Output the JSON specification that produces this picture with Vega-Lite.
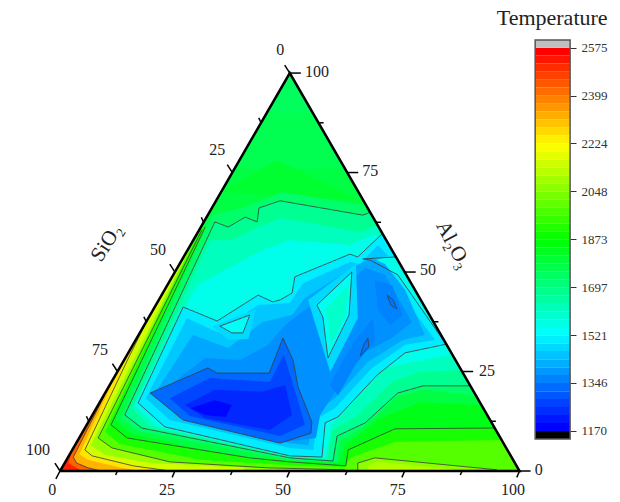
{
"$schema":"https://vega.github.io/schema/vega-lite/v6.json",
"width":620,"height":502,"padding":0,"autosize":{"type":"fit","contains":"padding"},
"background":"white","view":{"stroke":null},
"datasets":{
"bands":[
{"p":"b00","t":1780,"x":0,"y":0},{"p":"b00","t":1780,"x":100,"y":0},{"p":"b00","t":1780,"x":50,"y":100},
{"p":"b01","t":1762,"x":38,"y":76},{"p":"b01","t":1762,"x":50,"y":100},{"p":"b01","t":1762,"x":62,"y":76},
{"p":"b02","t":1745,"x":45,"y":90},{"p":"b02","t":1745,"x":50,"y":100},{"p":"b02","t":1745,"x":55,"y":90},
{"p":"b03","t":1805,"x":35,"y":70},{"p":"b03","t":1805,"x":47,"y":78},{"p":"b03","t":1805,"x":55,"y":74},{"p":"b03","t":1805,"x":65,"y":68},{"p":"b03","t":1805,"x":50,"y":69},
{"p":"h01","t":1840,"x":32,"y":64},{"p":"h01","t":1840,"x":12,"y":12.6},{"p":"h01","t":1840,"x":15.7,"y":9.3},{"p":"h01","t":1840,"x":41.3,"y":2.8},{"p":"h01","t":1840,"x":50,"y":2.5},{"p":"h01","t":1840,"x":60.9,"y":2},{"p":"h01","t":1840,"x":62,"y":6.5},{"p":"h01","t":1840,"x":69.6,"y":13.3},{"p":"h01","t":1840,"x":78.3,"y":17.3},{"p":"h01","t":1840,"x":91.7,"y":16.6},{"p":"h01","t":1840,"x":100,"y":0},{"p":"h01","t":1840,"x":0,"y":0},
{"p":"h02","t":1905,"x":30.6,"y":61.3},{"p":"h02","t":1905,"x":31.6,"y":61.3},{"p":"h02","t":1905,"x":11.1,"y":11.6},{"p":"h02","t":1905,"x":14.6,"y":8.3},{"p":"h02","t":1905,"x":41.3,"y":3.3},{"p":"h02","t":1905,"x":50,"y":2.3},{"p":"h02","t":1905,"x":62.2,"y":1.3},{"p":"h02","t":1905,"x":62.7,"y":5.3},{"p":"h02","t":1905,"x":72.9,"y":10.6},{"p":"h02","t":1905,"x":94.6,"y":10.8},{"p":"h02","t":1905,"x":100,"y":0},{"p":"h02","t":1905,"x":0,"y":0},
{"p":"h03","t":1990,"x":30.6,"y":61},{"p":"h03","t":1990,"x":9.8,"y":9.8},{"p":"h03","t":1990,"x":13.1,"y":6.8},{"p":"h03","t":1990,"x":30.5,"y":2.8},{"p":"h03","t":1990,"x":52.2,"y":1.3},{"p":"h03","t":1990,"x":62,"y":1},{"p":"h03","t":1990,"x":63.1,"y":3.3},{"p":"h03","t":1990,"x":72.9,"y":7.3},{"p":"h03","t":1990,"x":96.1,"y":7.8},{"p":"h03","t":1990,"x":100,"y":0},{"p":"h03","t":1990,"x":0,"y":0},
{"p":"h04","t":2080,"x":30.3,"y":60.6},{"p":"h04","t":2080,"x":8.3,"y":8.3},{"p":"h04","t":2080,"x":11.3,"y":5.8},{"p":"h04","t":2080,"x":23.9,"y":2.3},{"p":"h04","t":2080,"x":45,"y":0.8},{"p":"h04","t":2080,"x":62,"y":0.3},{"p":"h04","t":2080,"x":62,"y":0},{"p":"h04","t":2080,"x":0,"y":0},
{"p":"h05","t":2065,"x":64.8,"y":0},{"p":"h05","t":2065,"x":64.8,"y":2},{"p":"h05","t":2065,"x":68.5,"y":3.3},{"p":"h05","t":2065,"x":95.1,"y":0.3},{"p":"h05","t":2065,"x":100,"y":0},
{"p":"h06","t":2115,"x":67,"y":0},{"p":"h06","t":2115,"x":67,"y":1.3},{"p":"h06","t":2115,"x":69,"y":2.3},{"p":"h06","t":2115,"x":85,"y":0.5},{"p":"h06","t":2115,"x":88,"y":0},
{"p":"h07","t":2160,"x":29.2,"y":58.4},{"p":"h07","t":2160,"x":6.7,"y":6.5},{"p":"h07","t":2160,"x":9.8,"y":4},{"p":"h07","t":2160,"x":20,"y":2},{"p":"h07","t":2160,"x":40,"y":0.8},{"p":"h07","t":2160,"x":40,"y":0},{"p":"h07","t":2160,"x":0,"y":0},
{"p":"h08","t":2260,"x":18.8,"y":37.5},{"p":"h08","t":2260,"x":14.9,"y":28.4},{"p":"h08","t":2260,"x":5.4,"y":5.3},{"p":"h08","t":2260,"x":7,"y":3.8},{"p":"h08","t":2260,"x":15.9,"y":1.3},{"p":"h08","t":2260,"x":24,"y":0},{"p":"h08","t":2260,"x":0,"y":0},
{"p":"h09","t":2330,"x":12.5,"y":25},{"p":"h09","t":2330,"x":4.2,"y":4.2},{"p":"h09","t":2330,"x":6,"y":2.8},{"p":"h09","t":2330,"x":13,"y":0.9},{"p":"h09","t":2330,"x":18,"y":0},{"p":"h09","t":2330,"x":0,"y":0},
{"p":"h10","t":2440,"x":11,"y":22},{"p":"h10","t":2440,"x":2.9,"y":3.5},{"p":"h10","t":2440,"x":3.6,"y":2},{"p":"h10","t":2440,"x":6.1,"y":0.8},{"p":"h10","t":2440,"x":9,"y":0},{"p":"h10","t":2440,"x":0,"y":0},
{"p":"h11","t":2530,"x":2.9,"y":5.8},{"p":"h11","t":2530,"x":1.8,"y":2},{"p":"h11","t":2530,"x":4,"y":0.5},{"p":"h11","t":2530,"x":5,"y":0},{"p":"h11","t":2530,"x":0,"y":0},
{"p":"k01","t":1725,"x":13.3,"y":13.3},{"p":"k01","t":1725,"x":33.1,"y":64.3},{"p":"k01","t":1725,"x":40.3,"y":66.3},{"p":"k01","t":1725,"x":48.3,"y":70.1},{"p":"k01","t":1725,"x":66.7,"y":66.6},{"p":"k01","t":1725,"x":90.5,"y":19},{"p":"k01","t":1725,"x":79,"y":20.4},{"p":"k01","t":1725,"x":73.5,"y":18.8},{"p":"k01","t":1725,"x":65.7,"y":10.8},{"p":"k01","t":1725,"x":60.9,"y":7.5},{"p":"k01","t":1725,"x":60.3,"y":2.3},{"p":"k01","t":1725,"x":50,"y":2.8},{"p":"k01","t":1725,"x":16.8,"y":10.1},
{"p":"k02","t":1670,"x":33.7,"y":62.6},{"p":"k02","t":1670,"x":36.6,"y":61.3},{"p":"k02","t":1670,"x":40.3,"y":63.8},{"p":"k02","t":1670,"x":42.9,"y":62.6},{"p":"k02","t":1670,"x":43.3,"y":66.1},{"p":"k02","t":1670,"x":47.9,"y":67.9},{"p":"k02","t":1670,"x":65.9,"y":64.3},{"p":"k02","t":1670,"x":67.5,"y":65},{"p":"k02","t":1670,"x":89.3,"y":21.4},{"p":"k02","t":1670,"x":79,"y":21.4},{"p":"k02","t":1670,"x":73.5,"y":19.6},{"p":"k02","t":1670,"x":66.4,"y":12.1},{"p":"k02","t":1670,"x":60.3,"y":8.8},{"p":"k02","t":1670,"x":59.4,"y":2.5},{"p":"k02","t":1670,"x":50,"y":3.3},{"p":"k02","t":1670,"x":17.8,"y":10.8},{"p":"k02","t":1670,"x":14.1,"y":14.1},
{"p":"k03","t":1610,"x":15.7,"y":15.8},{"p":"k03","t":1610,"x":32.6,"y":58},{"p":"k03","t":1610,"x":37.4,"y":58},{"p":"k03","t":1610,"x":40.9,"y":60},{"p":"k03","t":1610,"x":44,"y":61.8},{"p":"k03","t":1610,"x":48.3,"y":63.6},{"p":"k03","t":1610,"x":65.3,"y":60},{"p":"k03","t":1610,"x":69.1,"y":61.8},{"p":"k03","t":1610,"x":87.3,"y":25.4},{"p":"k03","t":1610,"x":78.3,"y":24.9},{"p":"k03","t":1610,"x":72.2,"y":22.4},{"p":"k03","t":1610,"x":64.8,"y":14.1},{"p":"k03","t":1610,"x":59.2,"y":10.1},{"p":"k03","t":1610,"x":58.3,"y":3},{"p":"k03","t":1610,"x":50,"y":3.5},{"p":"k03","t":1610,"x":19.6,"y":11.1},
{"p":"k04","t":1550,"x":16.1,"y":16.6},{"p":"k04","t":1550,"x":29.8,"y":46.7},{"p":"k04","t":1550,"x":35.9,"y":50.5},{"p":"k04","t":1550,"x":44,"y":55.5},{"p":"k04","t":1550,"x":50,"y":58},{"p":"k04","t":1550,"x":63.1,"y":56.8},{"p":"k04","t":1550,"x":68.5,"y":59.5},{"p":"k04","t":1550,"x":71.5,"y":57},{"p":"k04","t":1550,"x":85.4,"y":29.2},{"p":"k04","t":1550,"x":76.6,"y":27.4},{"p":"k04","t":1550,"x":70.7,"y":25.9},{"p":"k04","t":1550,"x":63.1,"y":16.6},{"p":"k04","t":1550,"x":59,"y":11.6},{"p":"k04","t":1550,"x":57.7,"y":3.3},{"p":"k04","t":1550,"x":50,"y":3.8},{"p":"k04","t":1550,"x":21.3,"y":11.1},
{"p":"k05","t":1495,"x":26.8,"y":41.2},{"p":"k05","t":1495,"x":34.2,"y":37.7},{"p":"k05","t":1495,"x":43.1,"y":44.2},{"p":"k05","t":1495,"x":46.3,"y":42.5},{"p":"k05","t":1495,"x":47.9,"y":43},{"p":"k05","t":1495,"x":50.5,"y":44.7},{"p":"k05","t":1495,"x":51.1,"y":48.8},{"p":"k05","t":1495,"x":63.1,"y":54.5},{"p":"k05","t":1495,"x":64.8,"y":53.8},{"p":"k05","t":1495,"x":70.1,"y":59.6},{"p":"k05","t":1495,"x":73.1,"y":53.8},{"p":"k05","t":1495,"x":65.9,"y":53.3},{"p":"k05","t":1495,"x":67.5,"y":53},{"p":"k05","t":1495,"x":73.5,"y":49.3},{"p":"k05","t":1495,"x":83.8,"y":32.2},{"p":"k05","t":1495,"x":84.2,"y":31.9},{"p":"k05","t":1495,"x":75.1,"y":29.7},{"p":"k05","t":1495,"x":69,"y":24.1},{"p":"k05","t":1495,"x":60.5,"y":13.6},{"p":"k05","t":1495,"x":57.7,"y":12.1},{"p":"k05","t":1495,"x":57,"y":3.5},{"p":"k05","t":1495,"x":50,"y":3.8},{"p":"k05","t":1495,"x":22.8,"y":11.1},{"p":"k05","t":1495,"x":17,"y":17.1},
{"p":"k06","t":1445,"x":18.7,"y":18.3},{"p":"k06","t":1445,"x":27.6,"y":38.4},{"p":"k06","t":1445,"x":34.2,"y":34.9},{"p":"k06","t":1445,"x":43.1,"y":41.7},{"p":"k06","t":1445,"x":50,"y":42.2},{"p":"k06","t":1445,"x":52.9,"y":47.2},{"p":"k06","t":1445,"x":63.1,"y":52.5},{"p":"k06","t":1445,"x":65.3,"y":52},{"p":"k06","t":1445,"x":69.2,"y":56.8},{"p":"k06","t":1445,"x":71.4,"y":54},{"p":"k06","t":1445,"x":66.6,"y":52},{"p":"k06","t":1445,"x":72.9,"y":46.7},{"p":"k06","t":1445,"x":81.6,"y":32.9},{"p":"k06","t":1445,"x":75.1,"y":31.7},{"p":"k06","t":1445,"x":67.9,"y":25.9},{"p":"k06","t":1445,"x":59.8,"y":15.8},{"p":"k06","t":1445,"x":56.1,"y":13.3},{"p":"k06","t":1445,"x":55.1,"y":5.3},{"p":"k06","t":1445,"x":50,"y":5.8},{"p":"k06","t":1445,"x":23.9,"y":12.8},
{"p":"k07","t":1400,"x":20.7,"y":19.6},{"p":"k07","t":1400,"x":28.9,"y":34.2},{"p":"k07","t":1400,"x":36.6,"y":30.9},{"p":"k07","t":1400,"x":44,"y":37.4},{"p":"k07","t":1400,"x":50.5,"y":39.2},{"p":"k07","t":1400,"x":53.3,"y":43.5},{"p":"k07","t":1400,"x":63.5,"y":51},{"p":"k07","t":1400,"x":67.9,"y":53.5},{"p":"k07","t":1400,"x":70.7,"y":52},{"p":"k07","t":1400,"x":75.1,"y":45.5},{"p":"k07","t":1400,"x":79.4,"y":34.2},{"p":"k07","t":1400,"x":74.6,"y":32.9},{"p":"k07","t":1400,"x":67,"y":27.4},{"p":"k07","t":1400,"x":59.8,"y":18.3},{"p":"k07","t":1400,"x":55.7,"y":14.8},{"p":"k07","t":1400,"x":54,"y":6.5},{"p":"k07","t":1400,"x":50,"y":7},{"p":"k07","t":1400,"x":26.1,"y":13.3},
{"p":"k08","t":1368,"x":21.8,"y":19.6},{"p":"k08","t":1368,"x":31.6,"y":28.4},{"p":"k08","t":1368,"x":39.2,"y":27.9},{"p":"k08","t":1368,"x":45.3,"y":31.7},{"p":"k08","t":1368,"x":49,"y":36.7},{"p":"k08","t":1368,"x":53.3,"y":40.5},{"p":"k08","t":1368,"x":60.9,"y":45.5},{"p":"k08","t":1368,"x":66.4,"y":51},{"p":"k08","t":1368,"x":70.7,"y":49.3},{"p":"k08","t":1368,"x":76.6,"y":37.4},{"p":"k08","t":1368,"x":72.2,"y":33.4},{"p":"k08","t":1368,"x":66.4,"y":29.9},{"p":"k08","t":1368,"x":60.9,"y":21.6},{"p":"k08","t":1368,"x":56.6,"y":14.1},{"p":"k08","t":1368,"x":55.7,"y":8.3},{"p":"k08","t":1368,"x":49,"y":7.3},{"p":"k08","t":1368,"x":27.2,"y":12.8},
{"p":"i01","t":1470,"x":54,"y":43},{"p":"i01","t":1470,"x":64.4,"y":52},{"p":"i01","t":1470,"x":64.8,"y":38.4},{"p":"i01","t":1470,"x":58.8,"y":24.9},{"p":"i01","t":1470,"x":55.3,"y":37.9},
{"p":"i02","t":1540,"x":55.9,"y":41.7},{"p":"i02","t":1540,"x":63.5,"y":50},{"p":"i02","t":1540,"x":62.9,"y":39.2},{"p":"i02","t":1540,"x":58.3,"y":28.4},{"p":"i02","t":1540,"x":57.2,"y":38.7},
{"p":"i03","t":1595,"x":57.7,"y":40.5},{"p":"i03","t":1595,"x":62.7,"y":46.7},{"p":"i03","t":1595,"x":62,"y":39.2},{"p":"i03","t":1595,"x":59,"y":31.7},{"p":"i03","t":1595,"x":58.3,"y":38.4},
{"p":"i04","t":1470,"x":33.1,"y":36.4},{"p":"i04","t":1470,"x":42.6,"y":40.5},{"p":"i04","t":1470,"x":41,"y":33.2},{"p":"i04","t":1470,"x":36.6,"y":33},
{"p":"i05","t":1535,"x":34.8,"y":36.4},{"p":"i05","t":1535,"x":41.3,"y":39.2},{"p":"i05","t":1535,"x":39.8,"y":34.7},{"p":"i05","t":1535,"x":37.4,"y":34.7},
{"p":"i06","t":1350,"x":68.5,"y":48},{"p":"i06","t":1350,"x":72.3,"y":46.7},{"p":"i06","t":1350,"x":74.6,"y":39.2},{"p":"i06","t":1350,"x":71.8,"y":36.7},{"p":"i06","t":1350,"x":69.2,"y":40.5},
{"p":"i07","t":1350,"x":68.1,"y":38.4},{"p":"i07","t":1350,"x":68.6,"y":32.9},{"p":"i07","t":1350,"x":64.2,"y":26.6},{"p":"i07","t":1350,"x":60.5,"y":19},{"p":"i07","t":1350,"x":58.7,"y":21.6},{"p":"i07","t":1350,"x":63.5,"y":31.7},
{"p":"i08","t":1330,"x":71.2,"y":44.2},{"p":"i08","t":1330,"x":72.5,"y":43},{"p":"i08","t":1330,"x":73.3,"y":40.7},{"p":"i08","t":1330,"x":72,"y":41.7},
{"p":"i09","t":1330,"x":67,"y":33.4},{"p":"i09","t":1330,"x":67.2,"y":31.2},{"p":"i09","t":1330,"x":65.3,"y":28.9},{"p":"i09","t":1330,"x":66.1,"y":31.7},
{"p":"m01","t":1315,"x":19.6,"y":19.6},{"p":"m01","t":1315,"x":32.2,"y":25.9},{"p":"m01","t":1315,"x":34.2,"y":24.6},{"p":"m01","t":1315,"x":45.5,"y":24.6},{"p":"m01","t":1315,"x":48.5,"y":33.4},{"p":"m01","t":1315,"x":50.7,"y":27.9},{"p":"m01","t":1315,"x":51.8,"y":21.1},{"p":"m01","t":1315,"x":54.8,"y":12.3},{"p":"m01","t":1315,"x":54.6,"y":9.5},{"p":"m01","t":1315,"x":47.9,"y":7},{"p":"m01","t":1315,"x":26.8,"y":12.8},
{"p":"m02","t":1265,"x":23.9,"y":18.3},{"p":"m02","t":1265,"x":32.6,"y":23.4},{"p":"m02","t":1265,"x":45.7,"y":22.4},{"p":"m02","t":1265,"x":48.7,"y":29.2},{"p":"m02","t":1265,"x":51.4,"y":19.1},{"p":"m02","t":1265,"x":53.3,"y":11.6},{"p":"m02","t":1265,"x":47.9,"y":8.8},{"p":"m02","t":1265,"x":28.3,"y":13.8},
{"p":"m03","t":1225,"x":27.2,"y":16.6},{"p":"m03","t":1225,"x":33.7,"y":20.4},{"p":"m03","t":1225,"x":44,"y":19.9},{"p":"m03","t":1225,"x":49,"y":21.6},{"p":"m03","t":1225,"x":50.5,"y":14.1},{"p":"m03","t":1225,"x":45.7,"y":10.3},{"p":"m03","t":1225,"x":31.6,"y":13.3},
{"p":"m04","t":1180,"x":28.3,"y":15.8},{"p":"m04","t":1180,"x":33.7,"y":17.8},{"p":"m04","t":1180,"x":37.4,"y":16.6},{"p":"m04","t":1180,"x":36.1,"y":13.6},{"p":"m04","t":1180,"x":31.6,"y":14.1}
],
"contours":[
{"c":"a","x":19.6,"y":19.6},{"c":"a","x":32.2,"y":25.9},{"c":"a","x":34.2,"y":24.6},{"c":"a","x":45.5,"y":24.6},{"c":"a","x":48.5,"y":33.4},{"c":"a","x":50.7,"y":27.9},{"c":"a","x":51.8,"y":21.1},{"c":"a","x":54.8,"y":12.3},{"c":"a","x":54.6,"y":9.5},{"c":"a","x":47.9,"y":7},{"c":"a","x":26.8,"y":12.8},{"c":"a","x":19.6,"y":19.6},
{"c":"b","x":26.8,"y":41.2},{"c":"b","x":34.2,"y":37.7},{"c":"b","x":43.1,"y":44.2},{"c":"b","x":46.3,"y":42.5},{"c":"b","x":47.9,"y":43},{"c":"b","x":50.5,"y":44.7},{"c":"b","x":51.1,"y":48.8},{"c":"b","x":63.1,"y":54.5},{"c":"b","x":64.8,"y":53.8},{"c":"b","x":70.1,"y":59.6},{"c":"b2","x":73.1,"y":53.8},{"c":"b2","x":65.9,"y":53.3},{"c":"b2","x":67.5,"y":53},{"c":"b2","x":73.5,"y":49.3},{"c":"b2","x":83.8,"y":32.2},{"c":"b2","x":84.2,"y":31.9},{"c":"b2","x":75.1,"y":29.7},{"c":"b2","x":69,"y":24.1},{"c":"b2","x":60.5,"y":13.6},{"c":"b2","x":57.7,"y":12.1},{"c":"b2","x":57,"y":3.5},{"c":"b2","x":50,"y":3.8},{"c":"b2","x":22.8,"y":11.1},{"c":"b2","x":17,"y":17.1},{"c":"b2","x":26.8,"y":41.2},
{"c":"d","x":34.8,"y":36.4},{"c":"d","x":41.3,"y":39.2},{"c":"d","x":39.8,"y":34.7},{"c":"d","x":37.4,"y":34.7},{"c":"d","x":34.8,"y":36.4},
{"c":"e","x":55.9,"y":41.7},{"c":"e","x":63.5,"y":50},{"c":"e","x":62.9,"y":39.2},{"c":"e","x":58.3,"y":28.4},{"c":"e","x":57.2,"y":38.7},{"c":"e","x":55.9,"y":41.7},
{"c":"f","x":71.2,"y":44.2},{"c":"f","x":72.5,"y":43},{"c":"f","x":73.3,"y":40.7},{"c":"f","x":72,"y":41.7},{"c":"f","x":71.2,"y":44.2},
{"c":"g","x":67,"y":33.4},{"c":"g","x":67.2,"y":31.2},{"c":"g","x":65.3,"y":28.9},{"c":"g","x":66.1,"y":31.7},{"c":"g","x":67,"y":33.4},
{"c":"h","x":89.3,"y":21.4},{"c":"h","x":79,"y":21.4},{"c":"h","x":73.5,"y":19.6},{"c":"h","x":66.4,"y":12.1},{"c":"h","x":60.3,"y":8.8},{"c":"h","x":59.4,"y":2.5},{"c":"h","x":50,"y":3.3},{"c":"h","x":17.8,"y":10.8},{"c":"h","x":14.1,"y":14.1},{"c":"h","x":33.7,"y":62.6},{"c":"h","x":36.6,"y":61.3},{"c":"h","x":40.3,"y":63.8},{"c":"h","x":42.9,"y":62.6},{"c":"h","x":43.3,"y":66.1},{"c":"h","x":47.9,"y":67.9},{"c":"h","x":65.9,"y":64.3},{"c":"h","x":67.5,"y":65},
{"c":"j","x":94.6,"y":10.8},{"c":"j","x":72.9,"y":10.6},{"c":"j","x":62.7,"y":5.3},{"c":"j","x":62.2,"y":1.3},{"c":"j","x":50,"y":2.3},{"c":"j","x":41.3,"y":3.3},{"c":"j","x":14.6,"y":8.3},{"c":"j","x":11.1,"y":11.6},{"c":"j","x":31.6,"y":61.3},
{"c":"k","x":30.9,"y":60.6},{"c":"k","x":8.3,"y":8.3},{"c":"k","x":11.3,"y":5.8},{"c":"k","x":23.9,"y":2.3},{"c":"k","x":45,"y":0.8},{"c":"k","x":62,"y":0.3},
{"c":"l","x":64.8,"y":0},{"c":"l","x":64.8,"y":2},{"c":"l","x":68.5,"y":3.3},{"c":"l","x":95.1,"y":0.3},
{"c":"n","x":18.8,"y":37.5},{"c":"n","x":14.9,"y":28.4},{"c":"n","x":5.4,"y":5.3},{"c":"n","x":7,"y":3.8},{"c":"n","x":15.9,"y":1.3},{"c":"n","x":24,"y":0},
{"c":"o","x":11,"y":22},{"c":"o","x":2.9,"y":3.5},{"c":"o","x":3.6,"y":2},{"c":"o","x":6.1,"y":0.8},{"c":"o","x":9,"y":0}
],
"ticks":[
{"x":0,"y":0,"x2":-0.9,"y2":-2},{"x":12.5,"y":0,"x2":12.1,"y2":-1},{"x":25,"y":0,"x2":24.4,"y2":-1.6},{"x":37.5,"y":0,"x2":37.1,"y2":-1},{"x":50,"y":0,"x2":49.4,"y2":-1.6},{"x":62.5,"y":0,"x2":62.1,"y2":-1},{"x":75,"y":0,"x2":74.4,"y2":-1.6},{"x":87.5,"y":0,"x2":87.1,"y2":-1},{"x":100,"y":0,"x2":99.4,"y2":-1.6},
{"x":0,"y":0,"x2":-1.1,"y2":2},{"x":6.25,"y":12.5,"x2":5.75,"y2":13.75},{"x":12.5,"y":25,"x2":11.4,"y2":27},{"x":18.75,"y":37.5,"x2":18.25,"y2":38.75},{"x":25,"y":50,"x2":23.9,"y2":52},{"x":31.25,"y":62.5,"x2":30.75,"y2":63.75},{"x":37.5,"y":75,"x2":36.4,"y2":77},{"x":43.75,"y":87.5,"x2":43.25,"y2":88.75},{"x":50,"y":100,"x2":48.9,"y2":102},
{"x":100,"y":0,"x2":102.4,"y2":0},{"x":93.75,"y":12.5,"x2":94.85,"y2":12.5},{"x":87.5,"y":25,"x2":89.9,"y2":25},{"x":81.25,"y":37.5,"x2":82.35,"y2":37.5},{"x":75,"y":50,"x2":77.4,"y2":50},{"x":68.75,"y":62.5,"x2":69.85,"y2":62.5},{"x":62.5,"y":75,"x2":64.9,"y2":75},{"x":56.25,"y":87.5,"x2":57.35,"y2":87.5},{"x":50,"y":100,"x2":52.4,"y2":100}
],
"labels":[
{"x":-1.7,"y":-4.8,"s":"0"},{"x":23.3,"y":-4.8,"s":"25"},{"x":48.5,"y":-4.8,"s":"50"},{"x":73.5,"y":-4.8,"s":"75"},{"x":98.6,"y":-4.8,"s":"100"},
{"x":47.9,"y":105.8,"s":"0"},{"x":34.2,"y":80.7,"s":"25"},{"x":21.3,"y":55.5,"s":"50"},{"x":8.7,"y":30.4,"s":"75"},{"x":-4.8,"y":5.3,"s":"100"},
{"x":55.9,"y":100.3,"s":"100"},{"x":67.5,"y":75.4,"s":"75"},{"x":80.1,"y":50.5,"s":"50"},{"x":92.9,"y":25.1,"s":"25"},{"x":104.2,"y":0.3,"s":"0"}
],
"scalebar":[
{"a":1170,"b":1199,"c":1170},{"a":1199,"b":1229,"c":1200},{"a":1229,"b":1258,"c":1230},{"a":1258,"b":1287,"c":1260},{"a":1287,"b":1316,"c":1290},{"a":1316,"b":1346,"c":1319},{"a":1346,"b":1375,"c":1349},{"a":1375,"b":1404,"c":1379},{"a":1404,"b":1433,"c":1409},{"a":1433,"b":1463,"c":1439},{"a":1463,"b":1492,"c":1469},{"a":1492,"b":1521,"c":1499},{"a":1521,"b":1551,"c":1529},{"a":1551,"b":1580,"c":1559},{"a":1580,"b":1609,"c":1589},{"a":1609,"b":1639,"c":1618},{"a":1639,"b":1668,"c":1648},{"a":1668,"b":1697,"c":1678},{"a":1697,"b":1726,"c":1708},{"a":1726,"b":1756,"c":1738},{"a":1756,"b":1785,"c":1768},{"a":1785,"b":1814,"c":1798},{"a":1814,"b":1843,"c":1828},{"a":1843,"b":1873,"c":1858},{"a":1873,"b":1902,"c":1888},{"a":1902,"b":1931,"c":1917},{"a":1931,"b":1961,"c":1947},{"a":1961,"b":1990,"c":1977},{"a":1990,"b":2019,"c":2007},{"a":2019,"b":2048,"c":2037},{"a":2048,"b":2078,"c":2067},{"a":2078,"b":2107,"c":2097},{"a":2107,"b":2136,"c":2127},{"a":2136,"b":2165,"c":2157},{"a":2165,"b":2195,"c":2187},{"a":2195,"b":2224,"c":2216},{"a":2224,"b":2253,"c":2246},{"a":2253,"b":2283,"c":2276},{"a":2283,"b":2312,"c":2306},{"a":2312,"b":2341,"c":2336},{"a":2341,"b":2370,"c":2366},{"a":2370,"b":2399,"c":2396},{"a":2399,"b":2429,"c":2426},{"a":2429,"b":2458,"c":2456},{"a":2458,"b":2487,"c":2486},{"a":2487,"b":2517,"c":2515},{"a":2517,"b":2546,"c":2545},{"a":2546,"b":2575,"c":2575}
]
},
"resolve":{"scale":{"y":"independent"}},
"layer":[
{"encoding":{
"x":{"field":"x","type":"quantitative","axis":null,"scale":{"domain":[-13.06,121.86],"nice":false,"zero":false}},
"y":{"field":"y","type":"quantitative","axis":null,"scale":{"domain":[-7.79,118.36],"nice":false,"zero":false}}},
"layer":[
{"data":{"name":"bands"},"transform":[{"window":[{"op":"row_number","as":"i"}]}],"mark":{"type":"line","strokeWidth":0},"encoding":{"order":{"field":"i","type":"quantitative"},"detail":{"field":"p"},
"fill":{"field":"t","type":"quantitative","legend":null,"scale":{"domain":[1170,1521,1873,2224,2575],"range":["#0000ff","#00ffff","#00ff00","#ffff00","#ff0000"],"interpolate":"rgb"}}}},
{"data":{"name":"contours"},"transform":[{"window":[{"op":"row_number","as":"i"}]}],"mark":{"type":"line","stroke":"#3c3c3c","strokeWidth":1,"strokeOpacity":0.8},"encoding":{"order":{"field":"i","type":"quantitative"},"detail":{"field":"c"}}},
{"data":{"values":[{"x":0,"y":0,"i":0},{"x":100,"y":0,"i":1},{"x":50,"y":100,"i":2},{"x":0,"y":0,"i":3}]},"mark":{"type":"line","stroke":"#000000","strokeWidth":2.5,"strokeJoin":"miter"},"encoding":{"order":{"field":"i","type":"quantitative"}}},
{"data":{"name":"ticks"},"mark":{"type":"rule","stroke":"#000000","strokeWidth":1.5},"encoding":{"x2":{"field":"x2"},"y2":{"field":"y2"}}},
{"data":{"name":"labels"},"mark":{"type":"text","font":"Liberation Serif","fontSize":16,"fill":"#222222"},"encoding":{"text":{"field":"s"}}},
{"data":{"values":[{"x":10.2,"y":57.3,"s":"SiO₂"}]},"mark":{"type":"text","font":"Liberation Serif","fontSize":21,"angle":303,"fill":"#222222"},"encoding":{"text":{"field":"s"}}},
{"data":{"values":[{"x":85.5,"y":56.8,"s":"Al₂O₃"}]},"mark":{"type":"text","font":"Liberation Serif","fontSize":21,"angle":62,"fill":"#222222"},"encoding":{"text":{"field":"s"}}},
{"data":{"values":[{"x":107.1,"y":113.8,"s":"Temperature"}]},"mark":{"type":"text","font":"Liberation Serif","fontSize":22,"fill":"#222222"},"encoding":{"text":{"field":"s"}}}
]},
{"encoding":{
"x":{"datum":103.4,"type":"quantitative","axis":null,"scale":{"domain":[-13.06,121.86],"nice":false,"zero":false}},
"x2":{"datum":111}},
"layer":[
{"data":{"name":"scalebar"},"mark":{"type":"rect"},"encoding":{
"y":{"field":"a","type":"quantitative","scale":{"domain":[909.7,2749.9],"nice":false,"zero":false},
"axis":{"orient":"right","offset":-50,"values":[1170,1346,1521,1697,1873,2048,2224,2399,2575],"title":null,"grid":false,"domain":false,"labelFont":"Liberation Serif","labelFontSize":13,"labelColor":"#333333","tickColor":"#333333","tickSize":6,"labelPadding":5,"format":"d"}},
"y2":{"field":"b"},
"fill":{"field":"c","type":"quantitative","legend":null,"scale":{"domain":[1170,1521,1873,2224,2575],"range":["#0000ff","#00ffff","#00ff00","#ffff00","#ff0000"],"interpolate":"rgb"}}}},
{"data":{"values":[{"a":2575,"b":2603}]},"mark":{"type":"rect","fill":"#c0c0c0"},"encoding":{"y":{"field":"a","type":"quantitative"},"y2":{"field":"b"}}},
{"data":{"values":[{"a":1141,"b":1170}]},"mark":{"type":"rect","fill":"#000000"},"encoding":{"y":{"field":"a","type":"quantitative"},"y2":{"field":"b"}}},
{"data":{"values":[{"a":1141,"b":2603}]},"mark":{"type":"rect","fill":"transparent","stroke":"#555555","strokeWidth":1.5},"encoding":{"y":{"field":"a","type":"quantitative"},"y2":{"field":"b"}}}
]}
]
}
